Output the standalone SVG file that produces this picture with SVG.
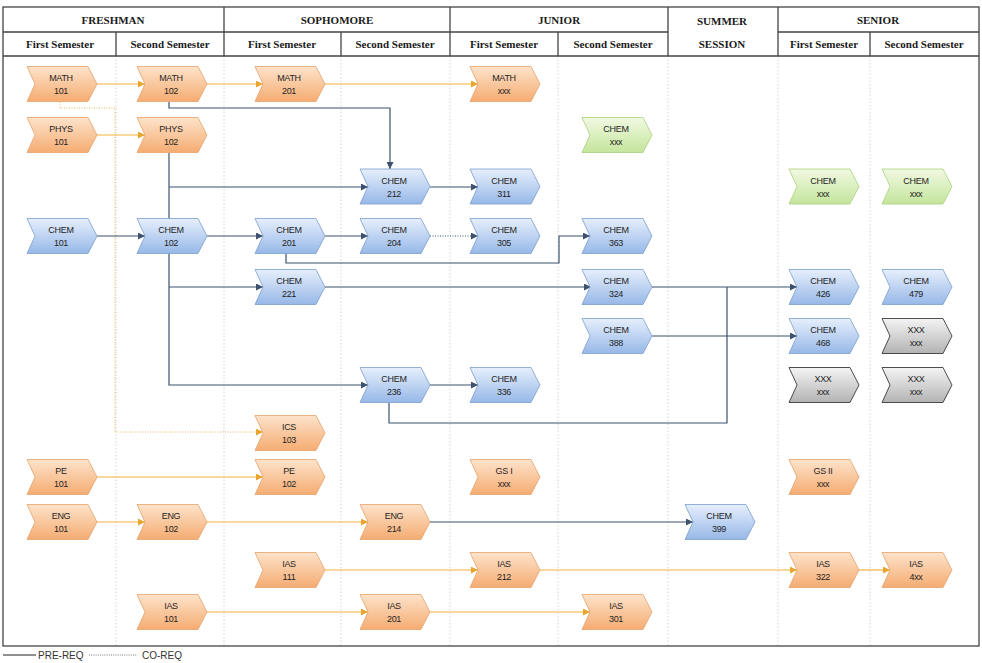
<svg xmlns="http://www.w3.org/2000/svg" xmlns:xlink="http://www.w3.org/1999/xlink" width="982" height="663" viewBox="0 0 982 663">
  <style>
    .hdr { font-family: "Liberation Serif", "Times New Roman", serif; font-weight: bold; font-size: 11px; fill: #1a1a1a; text-anchor: middle; }
    .lbl { font-family: "Liberation Sans", Arial, sans-serif; font-size: 9px; fill: #1f1f1f; text-anchor: middle; letter-spacing: -0.3px; }
    .leg { font-family: "Liberation Sans", Arial, sans-serif; font-size: 10px; fill: #333; }
    .grid { stroke: #444; stroke-width: 1.3; fill: none; }
    .col { stroke: #c9c9c9; stroke-width: 0.8; stroke-dasharray: 1.5 2; fill: none; }
    .orange { fill: url(#gOrange); stroke: #e6a26a; stroke-width: 0.8; }
    .blue { fill: url(#gBlue); stroke: #7b9dcc; stroke-width: 0.8; }
    .green { fill: url(#gGreen); stroke: #a9cf7c; stroke-width: 0.8; }
    .gray { fill: url(#gGray); stroke: #3a3a3a; stroke-width: 0.9; }
    .pre { stroke: #3d5270; stroke-width: 1.2; fill: none; }
    .preA { stroke: #3d5270; stroke-width: 1.2; fill: none; marker-end: url(#aDark); }
    .co { stroke: #3d5270; stroke-width: 1; fill: none; stroke-dasharray: 1 1.5; marker-end: url(#aDark); }
    .opre { stroke: #f2b13e; stroke-width: 1.2; fill: none; marker-end: url(#aOrange); }
    .ocoA { stroke: #e9b458; stroke-width: 1; fill: none; stroke-dasharray: 1 1.5; marker-end: url(#aOrange); }
  </style>
  <defs>
    <linearGradient id="gOrange" x1="0" y1="0" x2="0" y2="1">
      <stop offset="0" stop-color="#fde3cb"/>
      <stop offset="1" stop-color="#f5ac72"/>
    </linearGradient>
    <linearGradient id="gBlue" x1="0" y1="0" x2="0" y2="1">
      <stop offset="0" stop-color="#e6effc"/>
      <stop offset="1" stop-color="#97b8e8"/>
    </linearGradient>
    <linearGradient id="gGreen" x1="0" y1="0" x2="0" y2="1">
      <stop offset="0" stop-color="#f1f9e2"/>
      <stop offset="1" stop-color="#c4e59c"/>
    </linearGradient>
    <linearGradient id="gGray" x1="0" y1="0" x2="0" y2="1">
      <stop offset="0" stop-color="#f4f4f4"/>
      <stop offset="1" stop-color="#b3b3b3"/>
    </linearGradient>
    <!-- chevron shape, 70 x 35, origin at top-left -->
    <path id="chev" d="M0 0 H61 L70 17.5 L61 35 H0 L8 17.5 Z"/>
    <marker id="aDark" viewBox="0 0 8 8" refX="8" refY="4" markerWidth="7" markerHeight="7" markerUnits="userSpaceOnUse" orient="auto">
      <path d="M0 0 L8 4 L0 8 Z" fill="#3d5270"/>
    </marker>
    <marker id="aOrange" viewBox="0 0 8 8" refX="8" refY="4" markerWidth="7" markerHeight="7" markerUnits="userSpaceOnUse" orient="auto">
      <path d="M0 0 L8 4 L0 8 Z" fill="#e9a62e"/>
    </marker>
  </defs>

  <rect width="982" height="663" fill="#ffffff"/>

  <!-- semester columns in the body -->
  <g id="columns">
    <path class="col" d="M116 56 V646 M224 56 V646 M341 56 V646 M450 56 V646 M558 56 V646 M668 56 V646 M778 56 V646 M870 56 V646"/>
  </g>

  <!-- table frame and header -->
  <g id="header">
    <rect class="grid" x="3" y="7" width="976" height="639"/>
    <path class="grid" d="M3 32 H668 M778 32 H979 M3 56 H979"/>
    <path class="grid" d="M224 7 V56 M450 7 V56 M668 7 V56 M778 7 V56 M116 32 V56 M341 32 V56 M558 32 V56 M870 32 V56"/>
    <text class="hdr" x="113" y="24">FRESHMAN</text>
    <text class="hdr" x="337" y="24">SOPHOMORE</text>
    <text class="hdr" x="559" y="24">JUNIOR</text>
    <text class="hdr" x="722" y="25">SUMMER</text>
    <text class="hdr" x="722" y="48">SESSION</text>
    <text class="hdr" x="878" y="24">SENIOR</text>
    <text class="hdr" x="60" y="48">First Semester</text>
    <text class="hdr" x="170" y="48">Second Semester</text>
    <text class="hdr" x="282" y="48">First Semester</text>
    <text class="hdr" x="395" y="48">Second Semester</text>
    <text class="hdr" x="504" y="48">First Semester</text>
    <text class="hdr" x="613" y="48">Second Semester</text>
    <text class="hdr" x="824" y="48">First Semester</text>
    <text class="hdr" x="924" y="48">Second Semester</text>
  </g>

  <!-- prerequisite and co-requisite links -->
  <g id="connectors">
    <!-- math / physics / general (orange) -->
    <path class="opre" d="M97 84 H145"/>
    <path class="opre" d="M207 84 H263"/>
    <path class="opre" d="M325 84 H478"/>
    <path class="opre" d="M97 135 H145"/>
    <path class="ocoA" d="M60 102 V108 H115 V432 H263"/>
    <path class="opre" d="M97 477 H263"/>
    <path class="opre" d="M97 522 H145"/>
    <path class="opre" d="M207 522 H368"/>
    <path class="opre" d="M325 570 H478"/>
    <path class="opre" d="M540 570 H797"/>
    <path class="opre" d="M859 570 H890"/>
    <path class="opre" d="M207 612 H368"/>
    <path class="opre" d="M430 612 H590"/>
    <!-- chemistry (dark) -->
    <path class="preA" d="M169 102 V108 H390 V169"/>
    <path class="pre" d="M169 153 V219"/>
    <path class="preA" d="M169 187 H368"/>
    <path class="preA" d="M430 187 H478"/>
    <path class="preA" d="M97 236 H145"/>
    <path class="preA" d="M207 236 H263"/>
    <path class="preA" d="M325 236 H368"/>
    <path class="co" d="M430 236 H478"/>
    <path class="preA" d="M286 253 V263 H559 V236 H590"/>
    <path class="preA" d="M169 253 V385 H368"/>
    <path class="preA" d="M169 287 H263"/>
    <path class="preA" d="M325 287 H591"/>
    <path class="preA" d="M652 287 H797"/>
    <path class="pre" d="M389 403 V423 H727 V287"/>
    <path class="preA" d="M652 336 H797"/>
    <path class="preA" d="M430 385 H478"/>
    <path class="preA" d="M430 522 H693"/>
  </g>

  <!-- courses -->
  <g id="math101"><use href="#chev" x="27" y="66.5" class="orange"/><text class="lbl" x="61" y="81">MATH</text><text class="lbl" x="61" y="94">101</text></g>
  <g id="math102"><use href="#chev" x="137" y="66.5" class="orange"/><text class="lbl" x="171" y="81">MATH</text><text class="lbl" x="171" y="94">102</text></g>
  <g id="math201"><use href="#chev" x="255" y="66.5" class="orange"/><text class="lbl" x="289" y="81">MATH</text><text class="lbl" x="289" y="94">201</text></g>
  <g id="mathxxx"><use href="#chev" x="470" y="66.5" class="orange"/><text class="lbl" x="504" y="81">MATH</text><text class="lbl" x="504" y="94">xxx</text></g>

  <g id="phys101"><use href="#chev" x="27" y="117.5" class="orange"/><text class="lbl" x="61" y="132">PHYS</text><text class="lbl" x="61" y="145">101</text></g>
  <g id="phys102"><use href="#chev" x="137" y="117.5" class="orange"/><text class="lbl" x="171" y="132">PHYS</text><text class="lbl" x="171" y="145">102</text></g>
  <g id="chemxxx-j"><use href="#chev" x="582" y="117.5" class="green"/><text class="lbl" x="616" y="132">CHEM</text><text class="lbl" x="616" y="145">xxx</text></g>

  <g id="chem212"><use href="#chev" x="360" y="169" class="blue"/><text class="lbl" x="394" y="183.5">CHEM</text><text class="lbl" x="394" y="196.5">212</text></g>
  <g id="chem311"><use href="#chev" x="470" y="169" class="blue"/><text class="lbl" x="504" y="183.5">CHEM</text><text class="lbl" x="504" y="196.5">311</text></g>
  <g id="chemxxx-s1"><use href="#chev" x="789" y="169" class="green"/><text class="lbl" x="823" y="183.5">CHEM</text><text class="lbl" x="823" y="196.5">xxx</text></g>
  <g id="chemxxx-s2"><use href="#chev" x="882" y="169" class="green"/><text class="lbl" x="916" y="183.5">CHEM</text><text class="lbl" x="916" y="196.5">xxx</text></g>

  <g id="chem101"><use href="#chev" x="27" y="218.5" class="blue"/><text class="lbl" x="61" y="233">CHEM</text><text class="lbl" x="61" y="246">101</text></g>
  <g id="chem102"><use href="#chev" x="137" y="218.5" class="blue"/><text class="lbl" x="171" y="233">CHEM</text><text class="lbl" x="171" y="246">102</text></g>
  <g id="chem201"><use href="#chev" x="255" y="218.5" class="blue"/><text class="lbl" x="289" y="233">CHEM</text><text class="lbl" x="289" y="246">201</text></g>
  <g id="chem204"><use href="#chev" x="360" y="218.5" class="blue"/><text class="lbl" x="394" y="233">CHEM</text><text class="lbl" x="394" y="246">204</text></g>
  <g id="chem305"><use href="#chev" x="470" y="218.5" class="blue"/><text class="lbl" x="504" y="233">CHEM</text><text class="lbl" x="504" y="246">305</text></g>
  <g id="chem363"><use href="#chev" x="582" y="218.5" class="blue"/><text class="lbl" x="616" y="233">CHEM</text><text class="lbl" x="616" y="246">363</text></g>

  <g id="chem221"><use href="#chev" x="255" y="269.5" class="blue"/><text class="lbl" x="289" y="284">CHEM</text><text class="lbl" x="289" y="297">221</text></g>
  <g id="chem324"><use href="#chev" x="582" y="269.5" class="blue"/><text class="lbl" x="616" y="284">CHEM</text><text class="lbl" x="616" y="297">324</text></g>
  <g id="chem426"><use href="#chev" x="789" y="269.5" class="blue"/><text class="lbl" x="823" y="284">CHEM</text><text class="lbl" x="823" y="297">426</text></g>
  <g id="chem479"><use href="#chev" x="882" y="269.5" class="blue"/><text class="lbl" x="916" y="284">CHEM</text><text class="lbl" x="916" y="297">479</text></g>

  <g id="chem388"><use href="#chev" x="582" y="318.5" class="blue"/><text class="lbl" x="616" y="333">CHEM</text><text class="lbl" x="616" y="346">388</text></g>
  <g id="chem468"><use href="#chev" x="789" y="318.5" class="blue"/><text class="lbl" x="823" y="333">CHEM</text><text class="lbl" x="823" y="346">468</text></g>
  <g id="elective1"><use href="#chev" x="882" y="318.5" class="gray"/><text class="lbl" x="916" y="333">XXX</text><text class="lbl" x="916" y="346">xxx</text></g>

  <g id="chem236"><use href="#chev" x="360" y="367.5" class="blue"/><text class="lbl" x="394" y="382">CHEM</text><text class="lbl" x="394" y="395">236</text></g>
  <g id="chem336"><use href="#chev" x="470" y="367.5" class="blue"/><text class="lbl" x="504" y="382">CHEM</text><text class="lbl" x="504" y="395">336</text></g>
  <g id="elective2"><use href="#chev" x="789" y="367.5" class="gray"/><text class="lbl" x="823" y="382">XXX</text><text class="lbl" x="823" y="395">xxx</text></g>
  <g id="elective3"><use href="#chev" x="882" y="367.5" class="gray"/><text class="lbl" x="916" y="382">XXX</text><text class="lbl" x="916" y="395">xxx</text></g>

  <g id="ics103"><use href="#chev" x="255" y="415.5" class="orange"/><text class="lbl" x="289" y="430">ICS</text><text class="lbl" x="289" y="443">103</text></g>

  <g id="pe101"><use href="#chev" x="27" y="459.5" class="orange"/><text class="lbl" x="61" y="474">PE</text><text class="lbl" x="61" y="487">101</text></g>
  <g id="pe102"><use href="#chev" x="255" y="459.5" class="orange"/><text class="lbl" x="289" y="474">PE</text><text class="lbl" x="289" y="487">102</text></g>
  <g id="gs1"><use href="#chev" x="470" y="459.5" class="orange"/><text class="lbl" x="504" y="474">GS I</text><text class="lbl" x="504" y="487">xxx</text></g>
  <g id="gs2"><use href="#chev" x="789" y="459.5" class="orange"/><text class="lbl" x="823" y="474">GS II</text><text class="lbl" x="823" y="487">xxx</text></g>

  <g id="eng101"><use href="#chev" x="27" y="504.5" class="orange"/><text class="lbl" x="61" y="519">ENG</text><text class="lbl" x="61" y="532">101</text></g>
  <g id="eng102"><use href="#chev" x="137" y="504.5" class="orange"/><text class="lbl" x="171" y="519">ENG</text><text class="lbl" x="171" y="532">102</text></g>
  <g id="eng214"><use href="#chev" x="360" y="504.5" class="orange"/><text class="lbl" x="394" y="519">ENG</text><text class="lbl" x="394" y="532">214</text></g>
  <g id="chem399"><use href="#chev" x="685" y="504.5" class="blue"/><text class="lbl" x="719" y="519">CHEM</text><text class="lbl" x="719" y="532">399</text></g>

  <g id="ias111"><use href="#chev" x="255" y="552.5" class="orange"/><text class="lbl" x="289" y="567">IAS</text><text class="lbl" x="289" y="580">111</text></g>
  <g id="ias212"><use href="#chev" x="470" y="552.5" class="orange"/><text class="lbl" x="504" y="567">IAS</text><text class="lbl" x="504" y="580">212</text></g>
  <g id="ias322"><use href="#chev" x="789" y="552.5" class="orange"/><text class="lbl" x="823" y="567">IAS</text><text class="lbl" x="823" y="580">322</text></g>
  <g id="ias4xx"><use href="#chev" x="882" y="552.5" class="orange"/><text class="lbl" x="916" y="567">IAS</text><text class="lbl" x="916" y="580">4xx</text></g>

  <g id="ias101"><use href="#chev" x="137" y="594.5" class="orange"/><text class="lbl" x="171" y="609">IAS</text><text class="lbl" x="171" y="622">101</text></g>
  <g id="ias201"><use href="#chev" x="360" y="594.5" class="orange"/><text class="lbl" x="394" y="609">IAS</text><text class="lbl" x="394" y="622">201</text></g>
  <g id="ias301"><use href="#chev" x="582" y="594.5" class="orange"/><text class="lbl" x="616" y="609">IAS</text><text class="lbl" x="616" y="622">301</text></g>

  <!-- key -->
  <g id="legend">
    <path d="M3 655 H36" stroke="#222" stroke-width="1"/>
    <text class="leg" x="38" y="659">PRE-REQ</text>
    <path d="M89 655 H137" stroke="#555" stroke-width="0.8" stroke-dasharray="1 1.2"/>
    <text class="leg" x="142" y="659">CO-REQ</text>
  </g>
</svg>
